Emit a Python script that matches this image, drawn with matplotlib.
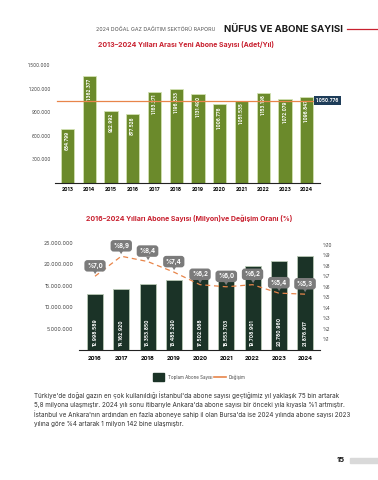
import matplotlib
matplotlib.use("Agg")
import matplotlib.pyplot as plt

plt.rcParams['font.family'] = ['Inter', 'DejaVu Sans']

# top chart data: yeni abone sayisi (adet/yil)
years_new = ['2013', '2014', '2015', '2016', '2017', '2018', '2019', '2020', '2021', '2022', '2023', '2024']
new_subs = [684799, 1362377, 922992, 877526, 1163271, 1196833, 1131490, 1006776, 1051535, 1153198, 1072079, 1096847]
new_labels = ['684.799', '1.362.377', '922.992', '877.526', '1.163.271', '1.196.833', '1.131.490',
              '1.006.776', '1.051.535', '1.153.198', '1.072.079', '1.096.847']
avg_value = 1050776
avg_label = '1.050.776'
top_yticks = [300000, 600000, 900000, 1200000, 1500000]
top_yticklabels = ['300.000', '600.000', '900.000', '1.200.000', '1.500.000']

# bottom chart data: toplam abone sayisi ve degisim orani
years_tot = ['2016', '2017', '2018', '2019', '2020', '2021', '2022', '2023', '2024']
total_subs = [12998589, 14162920, 15353850, 16485290, 17502068, 18553703, 19708901, 20780960, 21876917]
total_labels = ['12.998.589', '14.162.920', '15.353.850', '16.485.290', '17.502.068', '18.553.703',
                '19.708.901', '20.780.960', '21.876.917']
change_pct = [7.0, 8.9, 8.4, 7.4, 6.2, 6.0, 6.2, 5.4, 5.3]
change_labels = ['%7,0', '%8,9', '%8,4', '%7,4', '%6,2', '%6,0', '%6,2', '%5,4', '%5,3']
bot_yticks = [5000000, 10000000, 15000000, 20000000, 25000000]
bot_yticklabels = ['5.000.000', '10.000.000', '15.000.000', '20.000.000', '25.000.000']
pct_ticks = [1, 2, 3, 4, 5, 6, 7, 8, 9, 10]
pct_ticklabels = ['%1', '%2', '%3', '%4', '%5', '%6', '%7', '%8', '%9', '%10']

paragraph = [
    "Türkiye'de doğal gazın en çok kullanıldığı İstanbul'da abone sayısı geçtiğimiz yıl yaklaşık 75 bin artarak",
    "5,8 milyona ulaşmıştır. 2024 yılı sonu itibarıyle Ankara'da abone sayısı bir önceki yıla kıyasla %1 artmıştır.",
    "İstanbul ve Ankara'nın ardından en fazla aboneye sahip il olan Bursa'da ise 2024 yılında abone sayısı 2023",
    "yılına göre %4 artarak 1 milyon 142 bine ulaşmıştır.",
]

W, H = 378, 480
OLIVE = '#6b8a2b'
DARK = '#1b3327'
ORANGE = '#e8854a'
RED = '#c8202f'
GRAY = '#7b7b7b'
NAVY = '#1e3d59'

fig = plt.figure(figsize=(W / 100, H / 100), dpi=100)
fig.patch.set_facecolor('white')


def px_axes(l, t, r, b):
    return fig.add_axes([l / W, 1 - b / H, (r - l) / W, (b - t) / H])


def fx(x):
    return x / W


def fy(y):
    return 1 - y / H


# header
fig.text(fx(215), fy(29), '2024 DOĞAL GAZ DAĞITIM SEKTÖRÜ RAPORU', ha='right', va='center',
         fontsize=3.8, color='#555555')
fig.text(fx(224), fy(29), 'NÜFUS VE ABONE SAYISI', ha='left', va='center',
         fontsize=6.9, fontweight='bold', color='#1a1a1a')
fig.add_artist(plt.Line2D([fx(347), fx(378)], [fy(29), fy(29)], color=RED, lw=0.9))

# ---- top chart ----
fig.text(fx(186), fy(45), '2013–2024 Yılları Arası Yeni Abone Sayısı (Adet/Yıl)', ha='center', va='center',
         fontsize=5.0, fontweight='bold', color=RED)

ax = px_axes(55, 60, 320, 183)
x1 = list(range(len(years_new)))
ax.bar(x1, new_subs, width=0.61, color=OLIVE, edgecolor='#d3e1b3', linewidth=0.6, zorder=2)
for i, v in enumerate(new_subs):
    ax.text(i, v - 25000, new_labels[i], rotation=90, ha='center', va='top',
            fontsize=3.3, color='white', fontweight='bold', zorder=3)
ax.plot([-0.5, 11.45], [avg_value, avg_value], color=ORANGE, lw=0.9, zorder=4)
ax.text(11.95, avg_value, avg_label, ha='center', va='center', fontsize=3.4, color='white',
        fontweight='bold', zorder=5,
        bbox=dict(boxstyle='square,pad=0.45', fc=NAVY, ec='none'))
ax.set_xlim(-0.57, 11.61)
ax.set_ylim(0, 1570000)
ax.set_xticks(x1)
ax.set_xticklabels(years_new, fontsize=3.6, fontweight='bold')
ax.set_yticks(top_yticks)
ax.set_yticklabels(top_yticklabels, fontsize=3.4, color='#444444')
ax.tick_params(length=0, pad=3)
for s in ['top', 'right', 'left']:
    ax.spines[s].set_visible(False)
ax.spines['bottom'].set_linewidth(0.8)
ax.spines['bottom'].set_color('#222222')

# ---- bottom chart ----
fig.text(fx(189), fy(218), '2016–2024 Yılları Abone Sayısı (Milyon)ve Değişim Oranı (%)', ha='center',
         va='center', fontsize=5.0, fontweight='bold', color=RED)

bx = px_axes(79, 232, 320, 350)
x2 = list(range(len(years_tot)))
bx.bar(x2, total_subs, width=0.61, color=DARK, edgecolor='#b9c9b5', linewidth=0.6, zorder=2)
for i, v in enumerate(total_subs):
    bx.text(i, 900000, total_labels[i], rotation=90, ha='center', va='bottom',
            fontsize=3.5, color='white', fontweight='bold', zorder=3)
bx.set_xlim(-0.61, 8.57)
bx.set_ylim(0, 27600000)
bx.set_xticks(x2)
bx.set_xticklabels(years_tot, fontsize=4.2, fontweight='bold')
bx.set_yticks(bot_yticks)
bx.set_yticklabels(bot_yticklabels, fontsize=3.8, color='#444444')
bx.tick_params(length=0, pad=4)
for s in ['top', 'right', 'left']:
    bx.spines[s].set_visible(False)
bx.spines['bottom'].set_linewidth(0.8)
bx.spines['bottom'].set_color('#222222')

rx = bx.twinx()
rx.plot(x2, change_pct, color=ORANGE, lw=0.9, ls=(0, (4, 3)), zorder=3)
for i, v in enumerate(change_pct):
    rx.annotate('▼', xy=(i, v), xytext=(0, 2.2), textcoords='offset points', ha='center', va='center',
                fontsize=3, color=GRAY, zorder=4)
    rx.annotate(change_labels[i], xy=(i, v), xytext=(0, 7.5), textcoords='offset points',
                ha='center', va='center', fontsize=4.4, fontweight='bold', color='white', zorder=5,
                bbox=dict(boxstyle='round,pad=0.45,rounding_size=0.5', fc=GRAY, ec='none'))
rx.set_ylim(0, 11.2)
rx.set_yticks(pct_ticks)
rx.set_yticklabels(pct_ticklabels, fontsize=3.4, color='#444444')
rx.tick_params(length=0, pad=2)
for s in ['top', 'right', 'left', 'bottom']:
    rx.spines[s].set_visible(False)

# legend
fig.add_artist(plt.Rectangle((fx(153), fy(381)), 11 / W, 8 / H, color=DARK, transform=fig.transFigure))
fig.text(fx(168), fy(377), 'Toplam Abone Sayısı', ha='left', va='center', fontsize=3.2, color='#444444')
fig.add_artist(plt.Line2D([fx(214), fx(226)], [fy(377), fy(377)], color=ORANGE, lw=1.2))
fig.text(fx(229), fy(377), 'Değişim', ha='left', va='center', fontsize=3.2, color='#444444')

# paragraph
for k, line in enumerate(paragraph):
    fig.text(fx(34), fy(395 + k * 9.6), line, ha='left', va='center', fontsize=4.55, color='#333333')

# page number
fig.text(fx(345), fy(460), '15', ha='right', va='center', fontsize=5.5, fontweight='bold', color='#1a1a1a')
fig.add_artist(plt.Rectangle((fx(350), fy(463)), 28 / W, 5 / H, color='#d9d9d9', transform=fig.transFigure))

fig.savefig('out.png', dpi=100, facecolor='white')
